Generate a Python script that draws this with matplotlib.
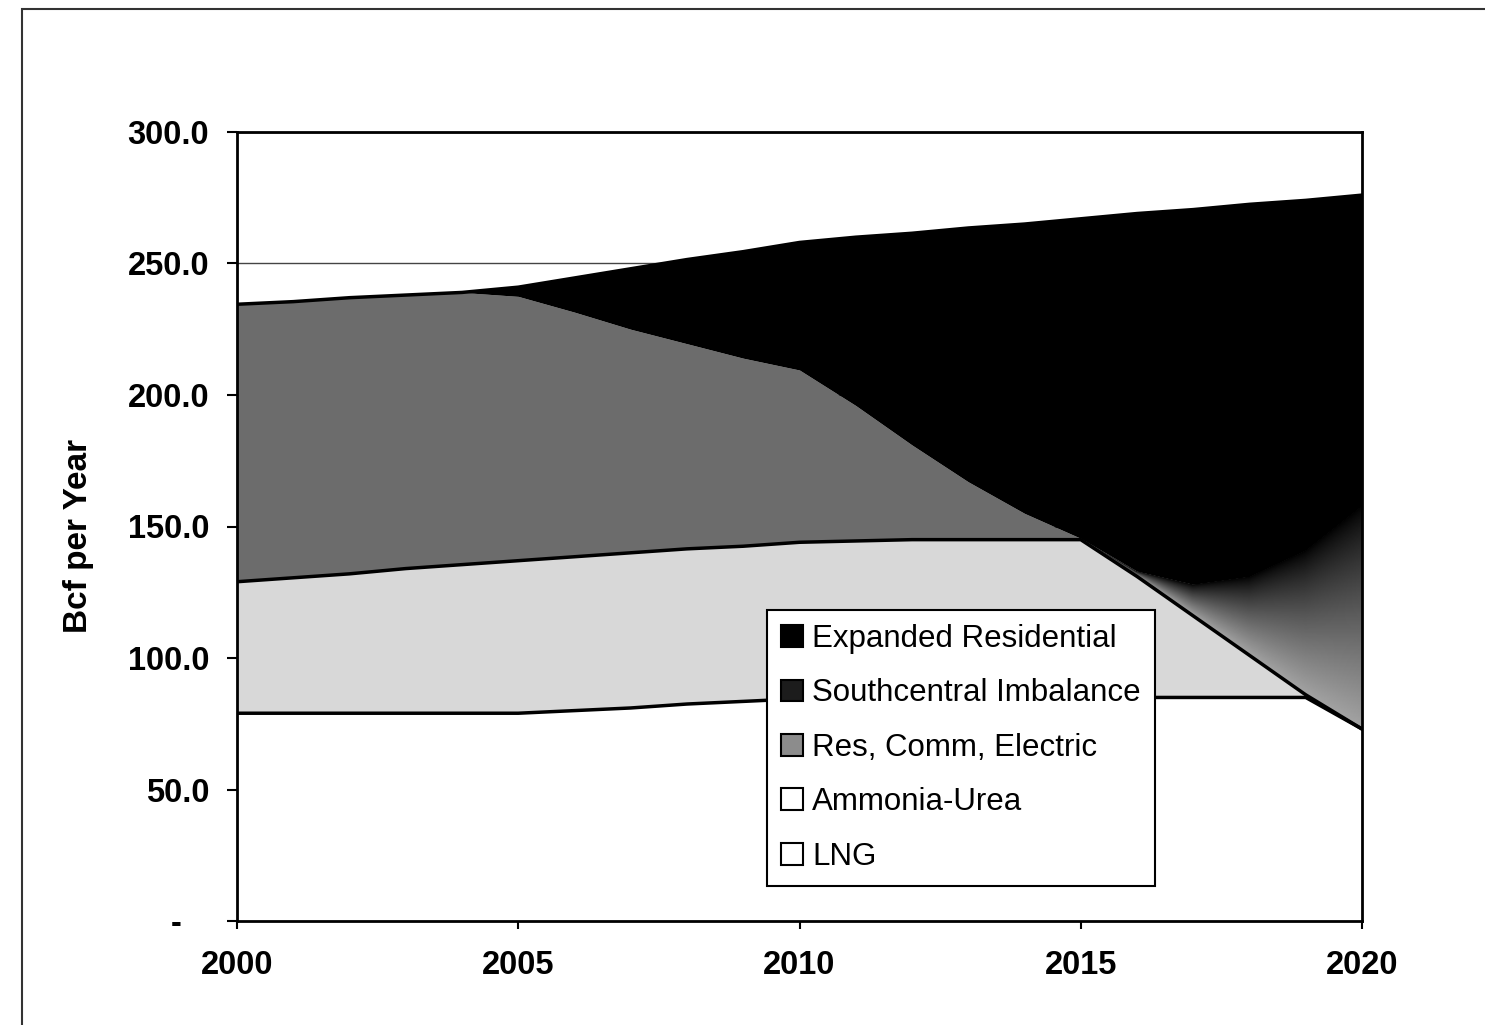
import matplotlib
matplotlib.use("Agg")
import matplotlib.pyplot as plt
import numpy as np
from matplotlib.patches import Patch, Rectangle
from matplotlib.ticker import FuncFormatter

plt.rcParams['font.family'] = ['Liberation Sans', 'DejaVu Sans']

# data (Bcf per year)
years = np.arange(2000, 2021)
lng = [79, 79, 79, 79, 79, 79, 80, 81, 82.5, 83.5, 84.5,
       85, 85, 85, 85, 85, 85, 85, 85, 85, 73]
ammonia_urea = [50, 51.5, 53, 55, 56.5, 58, 58.5, 59, 59, 59, 59.5,
                59.5, 60, 60, 60, 60, 46, 31, 16, 1, 0]
res_comm_electric = [105.5, 105, 105, 104, 103.5, 100.5, 93, 85, 78, 71.5, 65.5,
                     51.5, 36, 22, 10, 0.5, 0, 0, 0, 0, 0]
southcentral_imbalance = [0, 0, 0, 0, 0, 0, 0, 0, 0, 0, 0,
                          0, 0, 0, 0, 0, 2, 12, 30, 55, 85]
expanded_residential = [0, 0, 0, 0, 0, 3.5, 13, 23, 32, 40.5, 48.5,
                        64, 80.5, 96.5, 110, 121.5, 136, 142.5, 141.5, 133, 118]

legend_labels = ["Expanded Residential", "Southcentral Imbalance",
                 "Res, Comm, Electric", "Ammonia-Urea", "LNG"]

# stacked tops
c1 = np.array(lng, dtype=float)
c2 = c1 + np.array(ammonia_urea)
c3 = c2 + np.array(res_comm_electric)
c4 = c3 + np.array(southcentral_imbalance)
c5 = c4 + np.array(expanded_residential)

fig = plt.figure(figsize=(14.85, 10.25), dpi=100)
ax = fig.add_axes([237 / 1485, 104 / 1025, 1125 / 1485, 789 / 1025])

ax.fill_between(years, 0, c1, color='white', lw=0, zorder=1)
ax.fill_between(years, c1, c2, color='#d8d8d8', lw=0, zorder=1)
ax.fill_between(years, c2, c3, color='#6c6c6c', lw=0, zorder=1)
poly = ax.fill_between(years, c3, c4, color='none', lw=0, zorder=1)
ax.fill_between(years, c4, c5, color='black', lw=0, zorder=1)

# imbalance area: grey at the bottom fading to black at the top
xs = np.linspace(2000, 2020, 801)
ys = np.linspace(0, 300, 601)
lo = np.interp(xs, years, c3)
hi = np.interp(xs, years, c4)
X, Y = np.meshgrid(xs, ys)
frac = np.clip((Y - lo[None, :]) / np.maximum(hi - lo, 1e-6)[None, :], 0, 1)
shade = 0.64 * (1 - frac) ** 0.8
im = ax.imshow(shade, extent=(2000, 2020, 0, 300), origin='lower',
               cmap='gray', vmin=0, vmax=1, aspect='auto', zorder=1.5,
               interpolation='bilinear')
im.set_clip_path(poly.get_paths()[0], ax.transData)

for c in (c1, c2, c5):
    ax.plot(years, c, color='black', lw=2.5, zorder=3, solid_joinstyle='miter')

ax.set_xlim(2000, 2020)
ax.set_ylim(0, 300)
ax.set_yticks(np.arange(0, 301, 50))
ax.set_xticks(np.arange(2000, 2021, 5))
ax.yaxis.set_major_formatter(FuncFormatter(lambda v, _: '-   ' if v == 0 else f'{v:.1f}'))
ax.yaxis.grid(True, color='#444444', lw=1)
ax.set_axisbelow(True)

for s in ax.spines.values():
    s.set_linewidth(2)
    s.set_color('black')
    s.set_zorder(4)

ax.tick_params(axis='y', direction='out', length=7, width=1.5, pad=13)
ax.tick_params(axis='x', direction='out', length=6, width=1.5, pad=15)
for lab in ax.get_xticklabels() + ax.get_yticklabels():
    lab.set_fontsize(23.5)
    lab.set_fontweight('bold')

fig.text(79 / 1485, 1 - 536 / 1025, "Bcf per Year", rotation=90, fontsize=24,
         fontweight='bold', ha='center', va='center')

handles = [
    Patch(facecolor='black', edgecolor='black', lw=1.5),
    Patch(facecolor='#1c1c1c', edgecolor='black', lw=1.5),
    Patch(facecolor='#8c8c8c', edgecolor='black', lw=1.5),
    Patch(facecolor='white', edgecolor='black', lw=1.5),
    Patch(facecolor='white', edgecolor='black', lw=1.5),
]
leg = ax.legend(handles, legend_labels, loc='upper left',
                bbox_to_anchor=(767 / 1485, 1 - 610 / 1025),
                bbox_transform=fig.transFigure, borderaxespad=0,
                fontsize=22.5, frameon=True, fancybox=False, shadow=False,
                framealpha=1, facecolor='white',
                handlelength=0.7, handleheight=0.7, handletextpad=0.3,
                labelspacing=0.78, borderpad=0.45)
leg.get_frame().set_edgecolor('black')
leg.get_frame().set_linewidth(1.5)
leg.set_zorder(5)

# outer frame of the scanned page
fig.add_artist(Rectangle((22 / 1485, -0.1), 1.2, 1.1 - 9 / 1025,
                         transform=fig.transFigure, fill=False,
                         edgecolor='#333333', lw=1.5))

fig.savefig("out.png", dpi=100)
